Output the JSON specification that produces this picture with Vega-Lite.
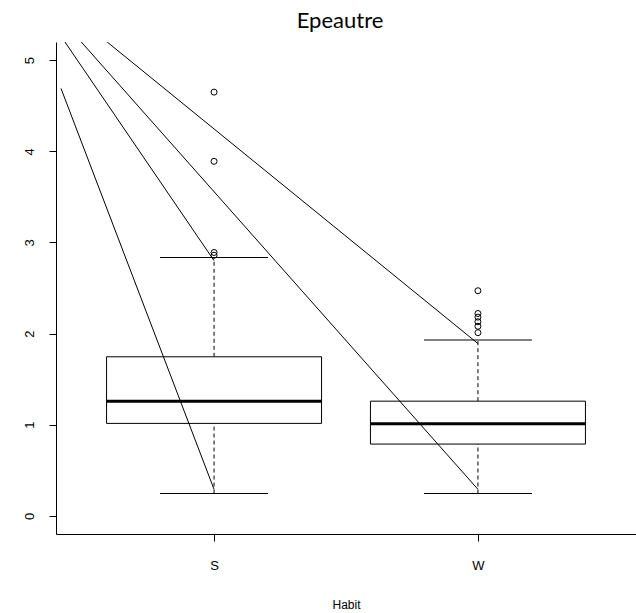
{
  "$schema": "https://vega.github.io/schema/vega-lite/v6.json",
  "width": 580,
  "height": 492,
  "autosize": "none",
  "padding": {"left": 56, "top": 42, "right": 0, "bottom": 79},
  "background": "white",
  "title": {"text": "Epeautre", "font": "Lato", "fontSize": 22, "fontWeight": "normal", "color": "black", "anchor": "middle", "offset": 9, "dx": -6},
  "config": {
    "view": {"stroke": null},
    "axis": {"domainColor": "black", "tickColor": "black", "labelColor": "black", "titleColor": "black", "grid": false, "labelFont": "Liberation Sans", "titleFont": "Liberation Sans", "labelFontSize": 13, "titleFontSize": 12, "titleFontWeight": "normal", "tickSize": 7, "domainWidth": 1, "tickWidth": 1}
  },
  "datasets": {
    "boxes": [
      {"Habit": "S", "x": 1, "lower": 0.244, "q1": 1.014, "median": 1.258, "q3": 1.745, "upper": 2.835},
      {"Habit": "W", "x": 2, "lower": 0.244, "q1": 0.787, "median": 1.01, "q3": 1.258, "upper": 1.93}
    ],
    "outliers": [
      {"Habit": "S", "x": 1, "y": 4.65},
      {"Habit": "S", "x": 1, "y": 3.89},
      {"Habit": "S", "x": 1, "y": 2.89},
      {"Habit": "S", "x": 1, "y": 2.86},
      {"Habit": "W", "x": 2, "y": 2.47},
      {"Habit": "W", "x": 2, "y": 2.22},
      {"Habit": "W", "x": 2, "y": 2.18},
      {"Habit": "W", "x": 2, "y": 2.13},
      {"Habit": "W", "x": 2, "y": 2.08},
      {"Habit": "W", "x": 2, "y": 2.01}
    ],
    "lines": [
      {"line": 1, "x": 0.42, "y": 4.69},
      {"line": 1, "x": 1, "y": 0.29},
      {"line": 2, "x": 0.435, "y": 5.2},
      {"line": 2, "x": 1, "y": 2.8},
      {"line": 3, "x": 0.497, "y": 5.2},
      {"line": 3, "x": 2, "y": 0.29},
      {"line": 4, "x": 0.595, "y": 5.2},
      {"line": 4, "x": 2, "y": 1.89}
    ]
  },
  "layer": [
    {
      "data": {"name": "boxes"},
      "mark": {"type": "rule", "strokeDash": [4, 3], "color": "black", "strokeWidth": 1},
      "encoding": {
        "x": {"field": "x", "type": "quantitative", "scale": {"domain": [0.42, 2.58], "nice": false, "zero": false},
              "axis": {"orient": "bottom", "values": [1, 2], "labelExpr": "datum.value == 1 ? 'S' : 'W'", "labelPadding": 18, "titlePadding": 27}, "title": "Habit"},
        "y": {"field": "q3", "type": "quantitative", "scale": {"domain": [-0.2, 5.2], "nice": false, "zero": false},
              "axis": {"values": [0, 1, 2, 3, 4, 5], "format": "d", "labelAngle": -90, "labelAlign": "center", "labelBaseline": "alphabetic", "labelPadding": 16}, "title": null},
        "y2": {"field": "upper"}
      }
    },
    {
      "data": {"name": "boxes"},
      "mark": {"type": "rule", "strokeDash": [4, 3], "color": "black", "strokeWidth": 1},
      "encoding": {
        "x": {"field": "x", "type": "quantitative", "title": "Habit"},
        "y": {"field": "lower", "type": "quantitative", "title": null},
        "y2": {"field": "q1"}
      }
    },
    {
      "data": {"name": "boxes"},
      "mark": {"type": "bar", "size": 215, "fill": "white", "stroke": "black", "strokeWidth": 1},
      "encoding": {
        "x": {"field": "x", "type": "quantitative", "title": "Habit"},
        "y": {"field": "q1", "type": "quantitative", "title": null},
        "y2": {"field": "q3"}
      }
    },
    {
      "data": {"name": "boxes"},
      "mark": {"type": "tick", "orient": "horizontal", "size": 215, "thickness": 3, "color": "black", "opacity": 1},
      "encoding": {
        "x": {"field": "x", "type": "quantitative", "title": "Habit"},
        "y": {"field": "median", "type": "quantitative", "title": null}
      }
    },
    {
      "data": {"name": "boxes"},
      "mark": {"type": "tick", "orient": "horizontal", "size": 108, "thickness": 1, "color": "black", "opacity": 1},
      "encoding": {
        "x": {"field": "x", "type": "quantitative", "title": "Habit"},
        "y": {"field": "lower", "type": "quantitative", "title": null}
      }
    },
    {
      "data": {"name": "boxes"},
      "mark": {"type": "tick", "orient": "horizontal", "size": 108, "thickness": 1, "color": "black", "opacity": 1},
      "encoding": {
        "x": {"field": "x", "type": "quantitative", "title": "Habit"},
        "y": {"field": "upper", "type": "quantitative", "title": null}
      }
    },
    {
      "data": {"name": "outliers"},
      "mark": {"type": "point", "shape": "circle", "filled": false, "size": 36, "stroke": "black", "strokeWidth": 1, "opacity": 1},
      "encoding": {
        "x": {"field": "x", "type": "quantitative", "title": "Habit"},
        "y": {"field": "y", "type": "quantitative", "title": null}
      }
    },
    {
      "data": {"name": "lines"},
      "mark": {"type": "line", "color": "black", "strokeWidth": 1, "clip": true},
      "encoding": {
        "x": {"field": "x", "type": "quantitative", "title": "Habit"},
        "y": {"field": "y", "type": "quantitative", "title": null},
        "detail": {"field": "line", "type": "nominal"}
      }
    },
    {
      "mark": {"type": "rule", "color": "black", "strokeWidth": 1},
      "encoding": {
        "y": {"datum": 5.2, "type": "quantitative", "title": null}
      }
    }
  ]
}
